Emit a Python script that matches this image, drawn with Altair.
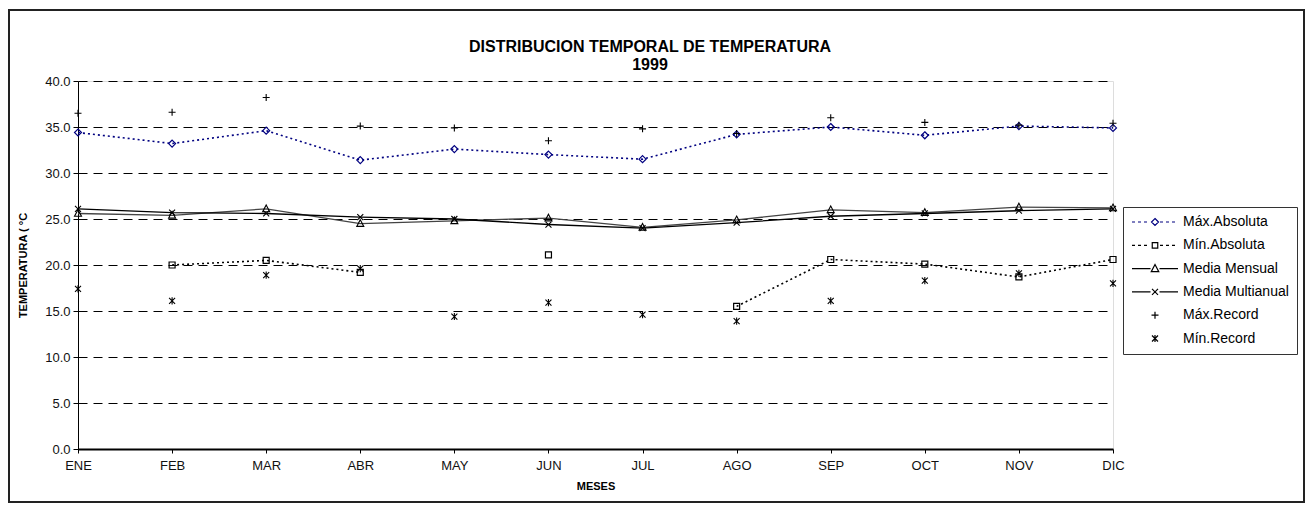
import altair as alt
import pandas as pd

# ---------------- data ----------------
months = ["ENE", "FEB", "MAR", "ABR", "MAY", "JUN", "JUL", "AGO", "SEP", "OCT", "NOV", "DIC"]
max_abs = [34.4, 33.2, 34.6, 31.4, 32.6, 32.0, 31.5, 34.2, 35.0, 34.1, 35.1, 34.9]
min_abs = [None, 20.0, 20.5, 19.2, None, 21.1, None, 15.5, 20.6, 20.1, 18.7, 20.6]
media_mensual = [25.6, 25.4, 26.1, 24.5, 24.8, 25.1, 24.1, 24.9, 26.0, 25.7, 26.3, 26.2]
media_multianual = [26.1, 25.7, 25.6, 25.2, 25.0, 24.4, 24.0, 24.6, 25.3, 25.6, 25.9, 26.1]
max_record = [36.5, 36.6, 38.2, 35.1, 34.9, 33.5, 34.8, 34.3, 36.0, 35.5, 35.2, 35.4]
min_record = [17.4, 16.1, 18.9, 19.6, 14.4, 15.9, 14.6, 13.9, 16.1, 18.3, 19.1, 18.0]
series_names = ["Máx.Absoluta", "Mín.Absoluta", "Media Mensual", "Media Multianual", "Máx.Record", "Mín.Record"]
title_lines = ["DISTRIBUCION TEMPORAL DE TEMPERATURA", "1999"]
y_ticks = [0, 5, 10, 15, 20, 25, 30, 35, 40]

df = pd.DataFrame({
    "mes": months,
    "max_abs": max_abs,
    "min_abs": min_abs,
    "media_mensual": media_mensual,
    "media_multianual": media_multianual,
    "max_record": max_record,
    "min_record": min_record,
})

FONT = "Liberation Sans"

# marker shapes (unit paths)
DIAMOND = "M0,-1L1,0L0,1L-1,0Z"
SQUARE = "M-1,-1H1V1H-1Z"
TRIANGLE = "M0,-1.1L1,0.8H-1Z"
XMARK = "M-1,-1L1,1M-1,1L1,-1"
PLUS = "M-1,0H1M0,-1V1"
ASTER = "M-1,-1L1,1M-1,1L1,-1M0,-1.2V1.2"


def scale_path(p, k):
    out = ""
    num = ""
    for ch in p:
        if ch.isdigit() or ch in ".-":
            if ch == "-" and num:
                out += f"{float(num) * k:.2f}"
                num = ""
            num += ch
        else:
            if num:
                out += f"{float(num) * k:.2f}"
                num = ""
            out += ch
    if num:
        out += f"{float(num) * k:.2f}"
    return out


# legend symbols: line + marker, drawn at symbol scale 5 (symbolSize 100)
dash_line = "M-4.6,0H-4.0M-3.4,0H-2.8M-2.2,0H-1.6M1.0,0H1.6M2.2,0H2.8M3.4,0H4.0"
solid_line = "M-4.6,0H-0.9M0.9,0H4.6"
legend_shapes = [
    dash_line + scale_path(DIAMOND, 0.7),
    dash_line + scale_path(SQUARE, 0.55),
    solid_line + scale_path(TRIANGLE, 0.75),
    solid_line + scale_path(XMARK, 0.6),
    scale_path(PLUS, 0.7),
    scale_path(ASTER, 0.6),
]
legend_colors = ["#000080", "black", "black", "black", "black", "black"]

# ---------------- encodings ----------------
x_enc = alt.X(
    "mes:N",
    sort=months,
    scale=alt.Scale(type="point", padding=0),
    axis=alt.Axis(
        labelAngle=0, grid=False, tickSize=4, tickColor="black",
        domainColor="black", domainWidth=2,
        labelFontSize=13, labelColor="#111", labelPadding=6, labelFont=FONT,
        title="MESES", titleFontSize=11, titleFontWeight="bold", titleFont=FONT,
        titlePadding=8, titleColor="black",
    ),
)
y_axis = alt.Axis(
    values=y_ticks, format=".1f", grid=True, gridDash=[9, 6], gridColor="black",
    gridWidth=1, tickSize=5, tickColor="black", domainColor="black",
    labelFontSize=13, labelColor="#111", labelPadding=3, labelFont=FONT,
    title="TEMPERATURA ( °C", titleFontSize=11, titleFontWeight="bold",
    titleFont=FONT, titlePadding=16, titleColor="black",
)
y_scale = alt.Scale(domain=[0, 40], nice=False, zero=True)


def yenc(col):
    return alt.Y(f"{col}:Q", scale=y_scale, axis=y_axis)


base = alt.Chart(df)

frame = alt.Chart(alt.Data(values=[{}])).mark_rect(
    fill="transparent", stroke="#222", strokeWidth=2
).encode(
    x=alt.value(-69), x2=alt.value(1226), y=alt.value(-71), y2=alt.value(421)
)

title_df = pd.DataFrame({"t": title_lines, "line": [0, 1]})
title1 = alt.Chart(title_df).transform_filter("datum.line == 0").mark_text(
    font=FONT, fontSize=16, fontWeight="bold", color="black", align="center", baseline="middle"
).encode(text="t:N", x=alt.value(572), y=alt.value(-34))
title2 = alt.Chart(title_df).transform_filter("datum.line == 1").mark_text(
    font=FONT, fontSize=16, fontWeight="bold", color="black", align="center", baseline="middle"
).encode(text="t:N", x=alt.value(572), y=alt.value(-16))

l_max_abs = base.mark_line(color="#000080", strokeDash=[2, 3], strokeWidth=1.6).encode(x=x_enc, y=yenc("max_abs"))
p_max_abs = base.mark_point(shape=DIAMOND, size=49, color="#000080", filled=False, strokeWidth=1.2, opacity=1).encode(x=x_enc, y=yenc("max_abs"))

l_min_abs = base.mark_line(color="black", strokeDash=[2, 3], strokeWidth=1.6, invalid="break-paths-show-domains").encode(x=x_enc, y=yenc("min_abs"))
p_min_abs = base.mark_point(shape=SQUARE, size=36, color="black", filled=False, strokeWidth=1.2, opacity=1).encode(x=x_enc, y=yenc("min_abs"))

l_mm = base.mark_line(color="#444", strokeWidth=1.3).encode(x=x_enc, y=yenc("media_mensual"))
p_mm = base.mark_point(shape=TRIANGLE, size=49, color="black", filled=False, strokeWidth=1.1, opacity=1).encode(x=x_enc, y=yenc("media_mensual"))

l_mma = base.mark_line(color="black", strokeWidth=1.3).encode(x=x_enc, y=yenc("media_multianual"))
p_mma = base.mark_point(shape=XMARK, size=36, color="black", filled=False, strokeWidth=1.1, opacity=1).encode(x=x_enc, y=yenc("media_multianual"))

p_maxr = base.mark_point(shape=PLUS, size=49, color="black", filled=False, strokeWidth=1.1, opacity=1).encode(x=x_enc, y=yenc("max_record"))
p_minr = base.mark_point(shape=ASTER, size=36, color="black", filled=False, strokeWidth=1.1, opacity=1).encode(x=x_enc, y=yenc("min_record"))

legend_df = pd.DataFrame({"serie": series_names})
legend_layer = alt.Chart(legend_df).mark_point(filled=False, opacity=1).encode(
    color=alt.Color(
        "serie:N",
        scale=alt.Scale(domain=series_names, range=legend_colors),
        legend=alt.Legend(
            title=None, orient="none", legendX=1045, legendY=126,
            strokeColor="#333", fillColor="white", padding=8,
            symbolSize=100, symbolStrokeWidth=1.2, symbolOffset=17,
            labelOffset=21, labelFontSize=14, labelFont=FONT, labelColor="black",
            rowPadding=9.3, symbolOpacity=1, labelLimit=300,
        ),
    ),
    shape=alt.Shape("serie:N", scale=alt.Scale(domain=series_names, range=legend_shapes)),
).transform_filter("false")

chart = alt.layer(
    frame, title1, title2, l_max_abs, l_min_abs, l_mm, l_mma,
    p_max_abs, p_min_abs, p_mm, p_mma, p_maxr, p_minr, legend_layer,
).properties(
    width=1035,
    height=368,
    autosize=alt.AutoSizeParams(type="none"),
    padding={"left": 70, "top": 73, "right": 192, "bottom": 55},
).configure_view(
    stroke="black", strokeWidth=1
).configure(
    font=FONT, background="white"
)

chart.save("out.html", embed_options={"renderer": "svg", "actions": False})
